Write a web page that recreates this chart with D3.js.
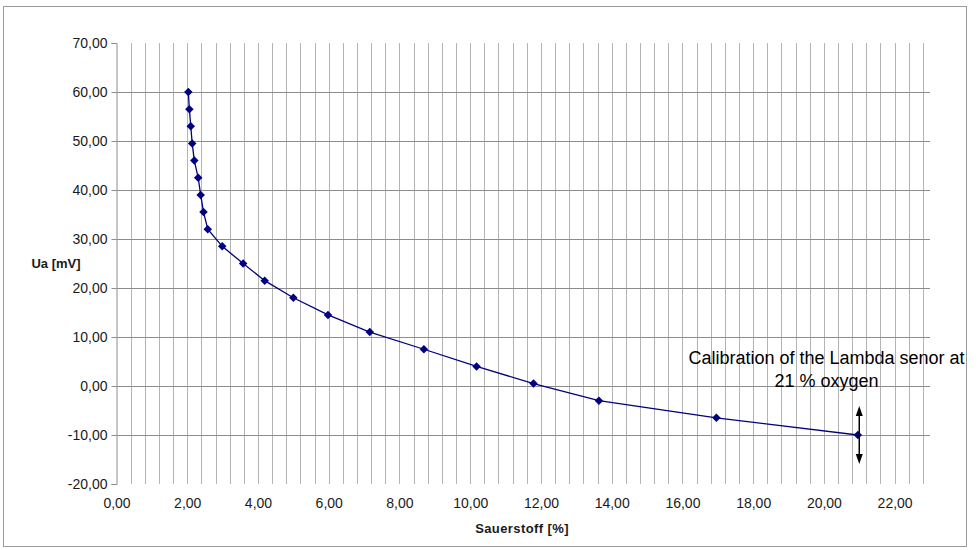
<!DOCTYPE html>
<html>
<head>
<meta charset="utf-8">
<script src="https://cdn.jsdelivr.net/npm/d3@7"></script>
<style>
  html, body { margin: 0; padding: 0; background: #fff; }
  svg { display: block; font-family: "Liberation Sans", Arial, sans-serif; }
</style>
</head>
<body>
<svg id="chart" width="980" height="550"></svg>
<script>
// ---- data ----
const oxygen = [2.03, 2.06, 2.10, 2.14, 2.20, 2.31, 2.38, 2.46, 2.58, 2.99, 3.58, 4.19, 5.00, 5.98, 7.16, 8.69, 10.18, 11.79, 13.64, 16.96, 20.96];
const voltage = [60.0, 56.5, 53.0, 49.5, 46.0, 42.5, 39.0, 35.5, 32.0, 28.5, 25.0, 21.5, 18.0, 14.5, 11.0, 7.5, 4.0, 0.5, -3.0, -6.5, -10.0];
const xTicks = [0, 2, 4, 6, 8, 10, 12, 14, 16, 18, 20, 22];
const yTicks = [-20, -10, 0, 10, 20, 30, 40, 50, 60, 70];
const xLabel = "Sauerstoff [%]";
const yLabel = "Ua [mV]";
const noteLines = ["Calibration of the Lambda senor at", "21 % oxygen"];
const noteX = 21, noteY = -10;

(function () {
const svg = d3.select("#chart");
const fmt = v => (v < 0 ? "-" : "") + Math.abs(v).toFixed(2).replace(".", ",");

// chart border
svg.append("rect").attr("x", 3.5).attr("y", 6.5).attr("width", 963).attr("height", 540)
  .attr("fill", "none").attr("stroke", "#9a9a9a").attr("stroke-width", 1);

const x = d3.scaleLinear().domain([0, 23]).range([116.5, 930]);
const y = d3.scaleLinear().domain([-20, 70]).range([484, 43]);

// vertical minor gridlines every 0.4
const vGrid = d3.range(0, 22.81, 0.4);
svg.append("g").selectAll("line").data(vGrid.slice(1)).join("line")
  .attr("x1", d => Math.round(x(d)) + 0.5).attr("x2", d => Math.round(x(d)) + 0.5)
  .attr("y1", y(70)).attr("y2", y(-20))
  .attr("stroke", "#b4b4b4").attr("stroke-width", 1);

// horizontal gridlines
svg.append("g").selectAll("line").data(yTicks.filter(d => d > -20 && d < 70)).join("line")
  .attr("x1", x(0)).attr("x2", x(23))
  .attr("y1", d => Math.round(y(d)) + 0.5).attr("y2", d => Math.round(y(d)) + 0.5)
  .attr("stroke", "#8c8c8c").attr("stroke-width", 1);

// y axis
const yAxis = d3.axisLeft(y).tickValues(yTicks).tickFormat(fmt).tickSize(5).tickPadding(4);
const gy = svg.append("g").attr("transform", `translate(${Math.round(x(0)) - 0.5},0)`).call(yAxis);
gy.select(".domain").attr("stroke", "#8c8c8c");
gy.selectAll(".tick line").attr("stroke", "#8c8c8c");
gy.selectAll("text").attr("font-size", 14).attr("fill", "#1a1a1a")
  .attr("font-family", "'Liberation Sans', Arial, sans-serif");

// x axis labels (no axis line)
const xAxis = d3.axisBottom(x).tickValues(xTicks).tickFormat(fmt).tickSize(0).tickPadding(14);
const gx = svg.append("g").attr("transform", `translate(0,${y(-20)})`).call(xAxis);
gx.select(".domain").remove();
gx.selectAll("text").attr("font-size", 14).attr("fill", "#1a1a1a")
  .attr("font-family", "'Liberation Sans', Arial, sans-serif");

// axis titles
svg.append("text").attr("x", 56).attr("y", 268).attr("text-anchor", "middle")
  .attr("font-size", 13).attr("font-weight", "bold").attr("fill", "#1a1a1a").text(yLabel);
svg.append("text").attr("x", 522).attr("y", 533).attr("text-anchor", "middle")
  .attr("font-size", 13).attr("font-weight", "bold").attr("letter-spacing", 0.4)
  .attr("fill", "#1a1a1a").text(xLabel);

// line series
const pts = oxygen.map((o, i) => [o, voltage[i]]);
svg.append("path").datum(pts)
  .attr("d", d3.line().x(d => x(d[0])).y(d => y(d[1])))
  .attr("fill", "none").attr("stroke", "#000080").attr("stroke-width", 1.3);

// diamond markers
const diamond = d3.symbol().type(d3.symbolDiamond2).size(46);
svg.append("g").selectAll("path").data(pts).join("path")
  .attr("transform", d => `translate(${x(d[0])},${y(d[1])})`)
  .attr("d", diamond).attr("fill", "#000080");

// annotation arrow (double-headed) at calibration point
const ax = x(noteX), ay = y(noteY);
const aTop = ay - 29, aBot = ay + 29;
svg.append("line").attr("x1", ax).attr("x2", ax).attr("y1", aTop + 6).attr("y2", aBot - 6)
  .attr("stroke", "#000").attr("stroke-width", 1.5);
svg.append("path").attr("d", `M${ax},${aTop} L${ax - 3.5},${aTop + 10} L${ax + 3.5},${aTop + 10} Z`).attr("fill", "#000");
svg.append("path").attr("d", `M${ax},${aBot} L${ax - 3.5},${aBot - 10} L${ax + 3.5},${aBot - 10} Z`).attr("fill", "#000");

// annotation text
svg.append("g").selectAll("text").data(noteLines).join("text")
  .attr("x", 826.5).attr("y", (d, i) => 364 + i * 22.5)
  .attr("text-anchor", "middle").attr("font-size", 18).attr("fill", "#000")
  .text(d => d);
})();
</script>
</body>
</html>
